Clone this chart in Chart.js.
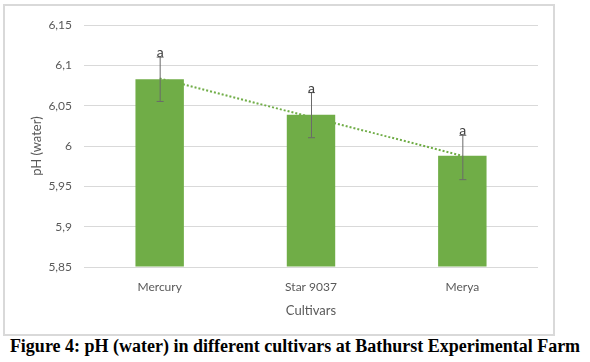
<!DOCTYPE html>
<html>
<head>
<meta charset="utf-8">
<script src="https://cdn.jsdelivr.net/npm/chart.js@4.4.1/dist/chart.umd.min.js"></script>
<style>
  body { margin: 0; background: #fff; width: 590px; height: 362px; position: relative; overflow: hidden; }
  #box { position: absolute; left: 3px; top: 4px; width: 548px; height: 328px; border: 2px solid #d9d9d9; }
  #caption { position: absolute; left: 0; top: 336px; width: 590px; text-align: center;
    font-family: "Liberation Serif", serif; font-weight: bold; font-size: 18px; color: #000; white-space: nowrap; }
</style>
</head>
<body>
<div id="box"><canvas id="chart" width="548" height="328"></canvas></div>
<div id="caption">Figure 4: pH (water) in different cultivars at Bathurst Experimental Farm</div>
<script>
const cultivars = ["Mercury", "Star 9037", "Merya"];
const phValues = [6.083, 6.039, 5.988];
const errLow = [6.056, 6.011, 5.959];
const errHigh = [6.111, 6.067, 6.014];
const letters = ["a", "a", "a"];
const trendValues = [6.084, 6.036, 5.988];
const yTicks = [5.85, 5.9, 5.95, 6, 6.05, 6.1, 6.15];
const yTickLabels = ["5,85", "5,9", "5,95", "6", "6,05", "6,1", "6,15"];

const errorBars = {
  id: "errorBars",
  afterDatasetsDraw(chart) {
    const ctx = chart.ctx;
    const x = chart.scales.x;
    const y = chart.scales.y;
    ctx.save();
    cultivars.forEach((c, i) => {
      const cx = x.getPixelForValue(i);
      const top = y.getPixelForValue(errHigh[i]);
      const bot = y.getPixelForValue(errLow[i]);
      ctx.strokeStyle = "#6a6a6a";
      ctx.lineWidth = 1;
      ctx.beginPath();
      ctx.moveTo(cx + 0.5, top);
      ctx.lineTo(cx + 0.5, bot);
      ctx.moveTo(cx - 3, top + 0.5);
      ctx.lineTo(cx + 4, top + 0.5);
      ctx.moveTo(cx - 3, bot + 0.5);
      ctx.lineTo(cx + 4, bot + 0.5);
      ctx.stroke();
      ctx.fillStyle = "#404040";
      ctx.font = "14px Lato, sans-serif";
      ctx.textAlign = "center";
      ctx.textBaseline = "bottom";
      ctx.fillText(letters[i], cx + 0.5, top + 3);
    });
    ctx.restore();
  }
};

new Chart(document.getElementById("chart"), {
  data: {
    labels: cultivars,
    datasets: [
      {
        type: "line",
        data: trendValues,
        borderColor: "#70ad47",
        borderWidth: 2,
        borderDash: [2, 2],
        pointRadius: 0,
        fill: false,
        order: 2
      },
      {
        type: "bar",
        data: phValues,
        backgroundColor: "#70ad47",
        barPercentage: 0.32,
        categoryPercentage: 1,
        base: 5.85,
        order: 1
      }
    ]
  },
  options: {
    responsive: false,
    animation: false,
    layout: { padding: { top: 9, right: 15, left: 24, bottom: 0 } },
    plugins: { legend: { display: false }, tooltip: { enabled: false } },
    scales: {
      x: {
        grid: { display: false },
        border: { display: false },
        ticks: { color: "#595959", font: { family: "Lato", size: 12 }, padding: 5 },
        title: { display: true, text: "Cultivars", color: "#595959", font: { family: "Lato", size: 13 }, padding: { top: 2, bottom: 15 } },
        afterFit(s) { s.height = 67; }
      },
      y: {
        min: 5.85,
        max: 6.15,
        afterBuildTicks(s) { s.ticks = yTicks.map(v => ({ value: v })); },
        ticks: {
          color: "#595959",
          font: { family: "Lato", size: 12 },
          padding: 12,
          callback: (v, i) => yTickLabels[i]
        },
        grid: { color: "#d9d9d9", drawTicks: false },
        border: { display: false },
        title: { display: true, text: "pH (water)", color: "#595959", font: { family: "Lato", size: 13 }, padding: { top: 0, bottom: 0 } },
        afterFit(s) { s.width = 55; }
      }
    }
  },
  plugins: [errorBars]
});
</script>
</body>
</html>
